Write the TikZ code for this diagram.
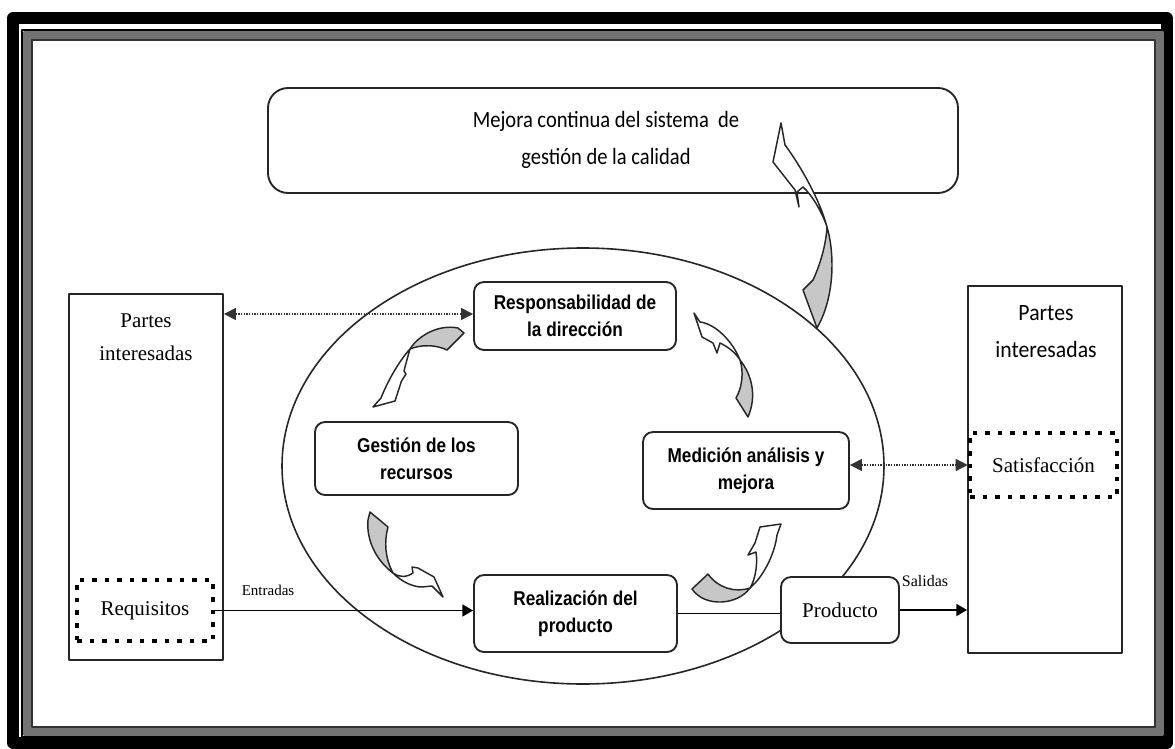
\documentclass[tikz,border=0pt]{standalone}
\usepackage{fontspec}
\setmainfont{Liberation Serif}
\newfontfamily\carlito{Carlito}[FakeStretch=0.88]
\newfontfamily\carlitob{Carlito}[FakeStretch=0.93]
\newfontfamily\narrowb{Liberation Sans}[FakeStretch=0.86]
\usetikzlibrary{arrows.meta,shapes.geometric}
\tikzset{
  rbox/.style={draw=black!85, line width=1.4pt, rounded corners=7.5pt, fill=white,
    font=\narrowb\bfseries\fontsize{15}{20.25}\selectfont, align=center, inner sep=0pt},
  sbox/.style={draw=black!85, line width=1.4pt, fill=white, inner sep=0pt},
  dotbox/.style={draw=black, line width=3.4pt, dash pattern=on 3.4pt off 6pt, inner sep=0pt,
    font=\fontsize{15.75}{18}\selectfont},
  serift/.style={font=\fontsize{15.75}{24.75}\selectfont, align=center, inner sep=0pt},
  dotarrow/.style={draw=black!80, line width=1pt, dash pattern=on 1pt off 1pt,
    {Triangle[length=9pt,width=9pt]}-{Triangle[length=9pt,width=9pt]}},
  solarrow/.style={draw=black, line width=1.1pt, -{Triangle[length=8pt,width=9pt]}},
  cgray/.style={fill=black!22, draw=black!85, line width=1.1pt},
  cwhite/.style={fill=white, draw=black!85, line width=1.1pt},
}
\begin{document}
\begin{tikzpicture}[x=0.75pt,y=-0.75pt, line join=round]
\useasboundingbox (0,0) rectangle (1175,749);
% frame
\draw[line width=8.5pt] (13,18) rectangle (1167,743);
\draw[line width=7pt, black!55] (27,35) rectangle (1160,732);
\draw[line width=0.8pt, black] (22,30) rectangle (1165,737);
\draw[line width=0.8pt, black!80] (32,40) rectangle (1155,727);

% cycle ellipse
\node[draw=black!85, line width=1.2pt, ellipse, inner sep=0pt, minimum width=451.5pt, minimum height=327pt] (cycle) at (583,466) {};

% top box
\node[draw=black!85, line width=1.4pt, rounded corners=15pt, fill=white, minimum width=517.5pt, minimum height=78.75pt,
  inner sep=0pt] (mejora) at (613,140.5) {};
\node[font=\carlito\fontsize{17.5}{28}\selectfont, align=center, inner sep=0pt] (mejoratext) at (606,140)
  {Mejora continua del sistema\ \ de\\gestión de la calidad};

% side boxes
\node[sbox, minimum width=115.5pt, minimum height=274.5pt] (left) at (146,477) {};
\node[serift] (lefttext) at (146,337) {Partes\\interesadas};
\node[sbox, minimum width=115.5pt, minimum height=275.25pt] (right) at (1045,469.5) {};
\node[font=\carlitob\fontsize{17.5}{27.75}\selectfont, align=center, inner sep=0pt] (righttext) at (1046,331.5) {Partes\\interesadas};
\node[dotbox, minimum width=102pt, minimum height=45.75pt] (req) at (145,610.5) {Requisitos};
\node[dotbox, minimum width=110.25pt, minimum height=48pt] (sat) at (1043.5,465) {Satisfacción};

% process boxes
\node[rbox, minimum width=151.5pt, minimum height=51pt] (resp) at (575,316) {Responsabilidad de\\la dirección};
\node[rbox, minimum width=152.25pt, minimum height=54.75pt] (gest) at (416.5,458.5) {Gestión de los\\recursos};
\node[rbox, minimum width=154.5pt, minimum height=57.75pt] (med) at (746,470.5) {Medición análisis y\\mejora};
\node[rbox, minimum width=152.25pt, minimum height=57.75pt] (real) at (575.5,613.5) {Realización del\\producto};
\node[rbox, font=\fontsize{15.75}{18}\selectfont, minimum width=88.5pt, minimum height=49.5pt] (prod) at (840,610) {Producto};

% connectors
\draw[dotarrow] (left.east |- 0,314) -- (resp.west |- 0,314);
\draw[dotarrow] (med.east |- sat.west) -- (sat.west);
\draw[solarrow] (req.east) -- (real.west |- req.east);
\draw[draw=black, line width=1.1pt] (real.east) -- (prod.west |- real.east);
\draw[solarrow] (prod.east) -- (right.west |- prod.east);
\node[font=\fontsize{11.25}{12}\selectfont, inner sep=0pt] (entradas) at (268,590) {Entradas};
\node[font=\fontsize{12}{13}\selectfont, inner sep=0pt] (salidas) at (925,581) {Salidas};

% curved arrows: Resp -> Gestion
\draw[cgray] (458,328) -- (464,333) -- (447,350) .. controls (437,345) and (422,344) .. (410,349)
  .. controls (418,336) and (438,324) .. (458,328) -- cycle;
\draw[cwhite] (410,349) .. controls (398,362) and (386,385) .. (381,398) -- (373,407) -- (395,401)
  -- (401.5,381) -- (406,374) -- (404,371) .. controls (406,363) and (408,356) .. (410,349) -- cycle;
% Gestion -> Realizacion
\draw[cgray] (370,512) -- (388,527) .. controls (384,542) and (385,558) .. (393,573)
  .. controls (378,562) and (366,542) .. (368,520) -- cycle;
\draw[cwhite] (393,573) .. controls (402,582) and (413,587) .. (422,587) -- (432,586) -- (443,597)
  -- (434,577) -- (418,568) -- (412,567) -- (413,573) .. controls (406,578) and (398,577) .. (393,573) -- cycle;
% Realizacion -> Medicion
\draw[cgray] (692,589) -- (708,574) .. controls (718,588) and (735,593) .. (750,588)
  .. controls (738,605) and (705,608) .. (692,589) -- cycle;
\draw[cwhite] (750,588) .. controls (765,575) and (775,552) .. (777,535) -- (781,524) -- (760,527)
  -- (755,543) -- (748,555) -- (756,552) .. controls (758,565) and (755,580) .. (750,588) -- cycle;
% Medicion -> Resp
\draw[cgray] (748,417) -- (736,398) .. controls (742,388) and (744,372) .. (740,360)
  .. controls (752,375) and (757,396) .. (748,417) -- cycle;
\draw[cwhite] (740,360) .. controls (733,342) and (716,324) .. (700,322) -- (694,313) -- (702,337)
  -- (713,343) -- (717,353) -- (720,343) .. controls (728,347) and (735,352) .. (740,360) -- cycle;
% big arrow to Mejora
\draw[cgray] (817,328) -- (803,290) -- (813,280) .. controls (820,265) and (826,245) .. (827,227)
  .. controls (834,250) and (836,295) .. (817,328) -- cycle;
\draw[cwhite] (827,227) .. controls (820,200) and (800,165) .. (785,145) -- (781,123) -- (773,162)
  -- (795,190) -- (799,207) -- (797,192) -- (803,187) .. controls (812,195) and (822,212) .. (827,227) -- cycle;
\end{tikzpicture}
\end{document}
